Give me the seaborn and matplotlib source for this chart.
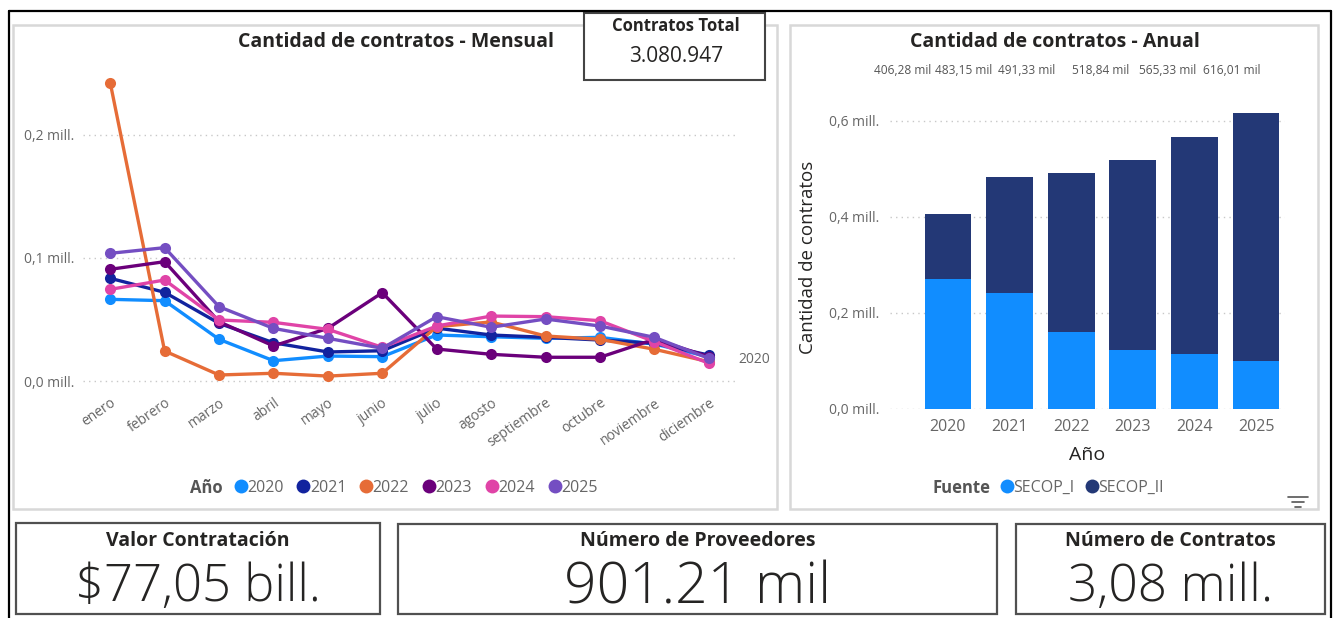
import numpy as np
import pandas as pd
import seaborn as sns
import matplotlib.pyplot as plt
from matplotlib.patches import Rectangle
from matplotlib.lines import Line2D
from matplotlib.ticker import FuncFormatter

# Datos (millones de contratos)

meses = ['enero', 'febrero', 'marzo', 'abril', 'mayo', 'junio', 'julio',
         'agosto', 'septiembre', 'octubre', 'noviembre', 'diciembre']
anios = ['2020', '2021', '2022', '2023', '2024', '2025']

c2020 = [0.0664, 0.0653, 0.0339, 0.0165, 0.0203, 0.0198, 0.0374, 0.0360, 0.0347, 0.0355, 0.0300, 0.0198]
c2021 = [0.0835, 0.0721, 0.0469, 0.0311, 0.0236, 0.0246, 0.0430, 0.0374, 0.0355, 0.0333, 0.0306, 0.0211]
c2022 = [0.2425, 0.0244, 0.0049, 0.0063, 0.0040, 0.0063, 0.0442, 0.0480, 0.0366, 0.0339, 0.0258, 0.0157]
c2023 = [0.0908, 0.0970, 0.0482, 0.0285, 0.0428, 0.0718, 0.0260, 0.0217, 0.0193, 0.0193, 0.0339, 0.0198]
c2024 = [0.0745, 0.0821, 0.0496, 0.0477, 0.0420, 0.0274, 0.0447, 0.0528, 0.0523, 0.0490, 0.0320, 0.0144]
c2025 = [0.1038, 0.1084, 0.0604, 0.0428, 0.0347, 0.0266, 0.0523, 0.0437, 0.0504, 0.0447, 0.0355, 0.0184]

secop_i = [0.270, 0.241, 0.161, 0.123, 0.115, 0.100]
total_anual = [0.40628, 0.48315, 0.49133, 0.51884, 0.56533, 0.61601]
etiquetas_total = ['406,28 mil', '483,15 mil', '491,33 mil', '518,84 mil', '565,33 mil', '616,01 mil']

contratos_total = '3.080.947'
tarjetas = [('Valor Contratación', '$77,05 bill.'),
            ('Número de Proveedores', '901.21 mil'),
            ('Número de Contratos', '3,08 mill.')]

colores_anio = ['#118DFF', '#12239E', '#E66C37', '#6B007B', '#E044A7', '#744EC2']
color_s1 = '#118DFF'
color_s2 = '#233876'
gris = '#666666'
oscuro = '#252423'

# Figura

sns.set_style('white')
plt.rcParams['font.family'] = ['Open Sans', 'DejaVu Sans']

W, H = 1333, 618
fig = plt.figure(figsize=(W / 100, H / 100), dpi=100)

def fx(px):
    return px / W

def fy(py):
    return 1 - py / H

def caja(x0, y0, x1, y1, color, lw, fondo='none'):
    r = Rectangle((fx(x0), fy(y1)), fx(x1) - fx(x0), fy(y0) - fy(y1),
                  transform=fig.transFigure, facecolor=fondo, edgecolor=color, lw=lw)
    fig.add_artist(r)
    return r

# marco exterior
fig.add_artist(Line2D([fx(9), fx(1331)], [fy(11), fy(11)], color='black', lw=1.6, transform=fig.transFigure))
fig.add_artist(Line2D([fx(9), fx(9)], [fy(11), fy(618)], color='black', lw=1.6, transform=fig.transFigure))
fig.add_artist(Line2D([fx(1331), fx(1331)], [fy(11), fy(618)], color='black', lw=1.6, transform=fig.transFigure))

# paneles
caja(13, 25, 777, 509, '#D8D8D8', 1.8)
caja(790, 25, 1318, 509, '#D8D8D8', 1.8)

# Grafico mensual

df = pd.DataFrame({
    'mes': list(range(12)) * 6,
    'valor': c2020 + c2021 + c2022 + c2023 + c2024 + c2025,
    'anio': [a for a in anios for _ in range(12)],
})

ax = fig.add_axes([fx(83), fy(390), fx(736) - fx(83), fy(70) - fy(390)])
ax.set_facecolor('none')
sns.lineplot(data=df, x='mes', y='valor', hue='anio', palette=colores_anio,
             marker='o', markersize=8, markeredgewidth=0, linewidth=2.4,
             legend=False, ax=ax)
ax.set_xlim(-0.5, 11.5)
ax.set_ylim(-0.0073, 0.2528)
ax.set_yticks([0, 0.1, 0.2])
ax.yaxis.set_major_formatter(FuncFormatter(lambda v, p: f'{v:.1f} mill.'.replace('.', ',', 1)))
ax.set_xticks(range(12))
ax.set_xticklabels(meses, rotation=35, ha='right', rotation_mode='anchor')
ax.tick_params(axis='both', length=0, labelsize=10, labelcolor=gris)
ax.tick_params(axis='y', pad=6)
ax.tick_params(axis='x', pad=4)
ax.grid(axis='y', color='#C8C8C8', linestyle=(0, (1, 3)), lw=1)
ax.set_axisbelow(True)
ax.set_xlabel('')
ax.set_ylabel('')
for s in ax.spines.values():
    s.set_visible(False)
ax.annotate('2020', xy=(11, c2020[-1]), xytext=(21, -2), textcoords='offset points',
            ha='left', va='center', fontsize=10, color=gris)

fig.text(fx(396), fy(42), 'Cantidad de contratos - Mensual', ha='center', va='center',
         fontsize=14, fontweight='bold', color=oscuro)

fig.text(fx(190), fy(488), 'Año', ha='left', va='center', fontsize=12, fontweight='bold', color='#555555')
h_anio = [Line2D([], [], marker='o', linestyle='', color=c, markersize=10, markeredgewidth=0) for c in colores_anio]
fig.legend(h_anio, anios, loc='center left', bbox_to_anchor=(fx(231), fy(488)), ncol=6,
           frameon=False, handletextpad=-0.2, columnspacing=0.65, fontsize=11.5,
           labelcolor=gris, handlelength=1.2, borderaxespad=0, borderpad=0)

# Tarjeta Contratos Total
caja(584, 13, 765, 80, '#444444', 1.5, fondo='white')
fig.text(fx(676), fy(26), 'Contratos Total', ha='center', va='center', fontsize=12,
         fontweight='bold', color=oscuro)
fig.text(fx(676), fy(56), contratos_total, ha='center', va='center', fontsize=15, color=oscuro)

# Grafico anual

bx = fig.add_axes([fx(890), fy(409), fx(1285) - fx(890), fy(105) - fy(409)])
bx.set_facecolor('none')
sns.barplot(x=anios, y=total_anual, color=color_s2, width=0.76, saturation=1, linewidth=0, ax=bx)
sns.barplot(x=anios, y=secop_i, color=color_s1, width=0.76, saturation=1, linewidth=0, ax=bx)
bx.set_xlim(-0.94, 5.47)
bx.set_ylim(0, 0.633)
bx.set_yticks([0, 0.2, 0.4, 0.6])
bx.yaxis.set_major_formatter(FuncFormatter(lambda v, p: f'{v:.1f} mill.'.replace('.', ',', 1)))
bx.tick_params(axis='both', length=0, labelcolor=gris)
bx.tick_params(axis='y', labelsize=10, pad=8)
bx.tick_params(axis='x', labelsize=11.5, pad=7)
bx.grid(axis='y', color='#C8C8C8', linestyle=(0, (1, 3)), lw=1)
bx.set_axisbelow(True)
for s in bx.spines.values():
    s.set_visible(False)
bx.set_xlabel('Año', fontsize=14, color=oscuro, labelpad=8)
bx.set_ylabel('Cantidad de contratos', fontsize=13.5, color=oscuro, labelpad=8)

pos_etq = [903, 964, 1027, 1101, 1168, 1232]
for px, t in zip(pos_etq, etiquetas_total):
    fig.text(fx(px), fy(71), t, ha='center', va='center', fontsize=8.6, color='#555555')

fig.text(fx(1055), fy(42), 'Cantidad de contratos - Anual', ha='center', va='center',
         fontsize=14, fontweight='bold', color=oscuro)

fig.text(fx(932), fy(488), 'Fuente', ha='left', va='center', fontsize=12, fontweight='bold', color='#555555')
h_fuente = [Line2D([], [], marker='o', linestyle='', color=c, markersize=10, markeredgewidth=0)
            for c in [color_s1, color_s2]]
fig.legend(h_fuente, ['SECOP_I', 'SECOP_II'], loc='center left', bbox_to_anchor=(fx(997), fy(488)),
           ncol=2, frameon=False, handletextpad=-0.2, columnspacing=0.5, fontsize=11.5,
           labelcolor=gris, handlelength=1.2, borderaxespad=0, borderpad=0)

# icono de filtro
for i, (a, b) in enumerate([(1288, 1308), (1292, 1304), (1295, 1301)]):
    fig.add_artist(Line2D([fx(a), fx(b)], [fy(497 + 5 * i)] * 2, color='#555555', lw=1.2,
                          transform=fig.transFigure))

# Tarjetas inferiores

cajas = [(16, 523, 380, 614), (398, 524, 997, 614), (1016, 524, 1325, 614)]
tam_valor = [36.5, 41, 37]
y_valor = [587, 589, 587]
for (x0, y0, x1, y1), (titulo, valor), tam, yv in zip(cajas, tarjetas, tam_valor, y_valor):
    caja(x0, y0, x1, y1, '#505050', 1.6)
    xc = (x0 + x1) / 2
    fig.text(fx(xc), fy(541), titulo, ha='center', va='center', fontsize=14,
             fontweight='bold', color=oscuro)
    fig.text(fx(xc), fy(yv), valor, ha='center', va='center', fontsize=tam,
             fontweight='light', color=oscuro)

fig.savefig('out.png', dpi=100, facecolor='white')
